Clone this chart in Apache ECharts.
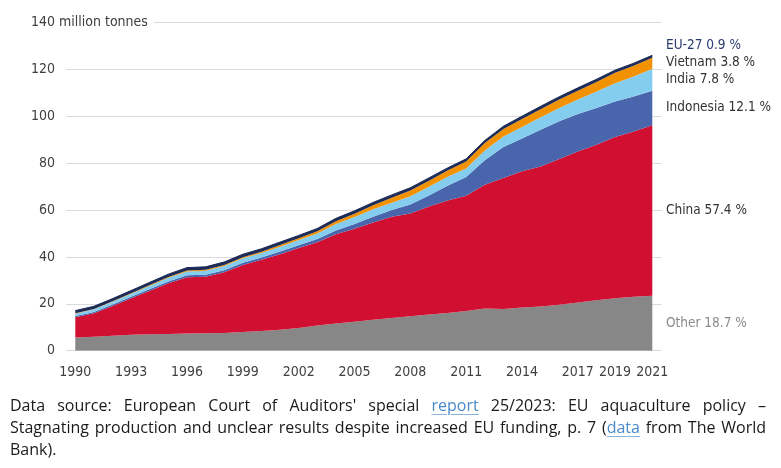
<!DOCTYPE html>
<html>
<head>
<meta charset="utf-8">
<script src="https://cdn.jsdelivr.net/npm/echarts@6/dist/echarts.min.js"></script>
<style>
html, body { margin: 0; padding: 0; background: #fff; }
#chart { position: absolute; left: 0; top: 0; width: 781px; height: 468px; }
#caption { position: absolute; left: 10px; top: 394px; width: 756px; font-family: "Open Sans", Roboto, sans-serif; font-size: 16px; line-height: 22px; color: #1a1a1a; }
#caption .j { text-align: justify; text-align-last: justify; }
#caption a { color: #4a8ac9; text-decoration: underline; text-decoration-color: #8ab4e0; text-underline-offset: 3px; }
</style>
</head>
<body>
<div id="chart"></div>
<div id="caption">
	<div class="j">Data source: European Court of Auditors' special <a>report</a> 25/2023: EU aquaculture policy –</div>
	<div class="j">Stagnating production and unclear results despite increased EU funding, p. 7 (<a>data</a> from The World</div>
	<div>Bank).</div>
</div>
<script>
// million tonnes, 1990-2021
const years = [];
for (let y = 1990; y <= 2021; y++) years.push(String(y));
const xLabelYears = ["1990", "1993", "1996", "1999", "2002", "2005", "2008", "2011", "2014", "2017", "2019", "2021"];

const other = [5.6, 6.0, 6.4, 6.8, 7.0, 7.1, 7.3, 7.5, 7.6, 8.0, 8.4, 8.9, 9.7, 10.8, 11.6, 12.4, 13.2, 14.0, 14.7, 15.4, 16.1, 16.9, 18.0, 17.8, 18.4, 18.9, 19.6, 20.6, 21.5, 22.4, 23.0, 23.5];
const china = [8.7, 10.0, 12.7, 15.6, 18.6, 21.7, 24.1, 24.1, 25.9, 28.6, 30.4, 32.3, 34.1, 35.5, 38.1, 39.6, 41.5, 43.2, 43.9, 46.1, 48.0, 49.2, 52.8, 55.9, 58.2, 59.7, 62.2, 64.4, 66.4, 68.8, 70.6, 72.7];
const indonesia = [0.5, 0.55, 0.6, 0.65, 0.7, 0.75, 0.8, 0.8, 0.85, 0.9, 1.0, 1.1, 1.2, 1.4, 1.6, 2.1, 2.5, 2.9, 3.8, 4.7, 6.3, 8.0, 10.5, 13.2, 14.0, 15.7, 16.1, 16.0, 15.7, 15.2, 14.9, 14.8];
const india = [1.0, 1.1, 1.2, 1.3, 1.4, 1.55, 1.65, 1.75, 1.85, 1.95, 1.95, 2.1, 2.2, 2.3, 2.8, 2.95, 3.2, 3.1, 3.5, 3.8, 3.8, 3.7, 4.2, 4.55, 4.9, 5.3, 5.7, 6.2, 7.0, 7.8, 8.5, 9.3];
const vietnam = [0.16, 0.17, 0.18, 0.2, 0.33, 0.38, 0.41, 0.45, 0.42, 0.48, 0.5, 0.71, 0.8, 0.97, 1.2, 1.44, 1.7, 2.1, 2.46, 2.56, 2.67, 2.93, 3.1, 3.2, 3.4, 3.5, 3.6, 3.8, 4.1, 4.4, 4.6, 4.7];
const eu27 = [1.15, 1.15, 1.15, 1.15, 1.15, 1.2, 1.2, 1.2, 1.25, 1.25, 1.25, 1.25, 1.2, 1.2, 1.2, 1.2, 1.2, 1.2, 1.2, 1.2, 1.15, 1.15, 1.15, 1.15, 1.2, 1.2, 1.2, 1.2, 1.15, 1.15, 1.1, 1.1];

const seriesNames = ["Other", "China", "Indonesia", "India", "Vietnam", "EU-27"];
const shareLabels = ["Other 18.7 %", "China 57.4 %", "Indonesia 12.1 %", "India 7.8 %", "Vietnam 3.8 %", "EU-27 0.9 %"];
const colors = ["#878787", "#d11031", "#4966ad", "#85cdee", "#f39200", "#1d2b57"];
const labelColors = ["#8a8a8a", "#333333", "#333333", "#333333", "#333333", "#2a3a6e"];
const values = [other, china, indonesia, india, vietnam, eu27];

const font = "'Liberation Sans Narrow', 'DejaVu Sans Condensed', sans-serif";

const chart = echarts.init(document.getElementById("chart"));
let option = {
	animation: false,
	grid: { left: 66, right: 119.4, top: 22.7, bottom: 117.3, containLabel: false, outerBoundsMode: "none" },
	xAxis: {
		type: "category",
		data: years,
		boundaryGap: true,
		axisLine: { show: false },
		axisTick: { show: false },
		axisLabel: {
			interval: (idx, val) => xLabelYears.includes(val),
			margin: 15,
			fontFamily: font,
			fontSize: 14,
			color: "#404040",
			hideOverlap: false,
		},
	},
	yAxis: {
		type: "value",
		min: 0,
		max: 140,
		interval: 20,
		axisLine: { show: false },
		axisTick: { show: false },
		splitLine: { lineStyle: { color: "#dadada", width: 1 } },
		axisLabel: { margin: 11, fontFamily: font, fontSize: 14, color: "#404040" },
	},
	series: values.map((v, i) => ({
		name: seriesNames[i],
		type: "line",
		stack: "total",
		data: v,
		symbol: "none",
		showSymbol: false,
		lineStyle: i === 5 ? { width: 1, color: colors[i] } : { width: 0 },
		itemStyle: { color: colors[i] },
		areaStyle: { color: colors[i], opacity: 1 },
	})),
};
chart.setOption(option);

// right-hand labels at the middle of each band in the last year
const last = years.length - 1;
let base = 0;
let ys = [];
values.forEach((v) => {
	const mid = base + v[last] / 2;
	base += v[last];
	ys.push(chart.convertToPixel({ yAxisIndex: 0 }, mid));
});
for (let i = 1; i < ys.length; i++) {
	if (ys[i - 1] - ys[i] < 17) ys[i] = ys[i - 1] - 17;
}
const graphics = ys.map((y, i) => ({
	type: "text",
	left: 666,
	top: y - 8,
	style: { text: shareLabels[i], fontFamily: font, fontSize: 13.5, fill: labelColors[i], lineHeight: 16 },
}));
graphics.push({
	type: "text",
	left: 59,
	top: chart.convertToPixel({ yAxisIndex: 0 }, 140) - 9,
	z: 10,
	style: {
		text: "million tonnes",
		fontFamily: font,
		fontSize: 14,
		fill: "#404040",
		lineHeight: 18,
		backgroundColor: "#fff",
		padding: [0, 6, 0, 0],
	},
});
chart.setOption({ graphic: graphics });
window.addEventListener("resize", () => {
	chart.resize();
});
</script>
</body>
</html>
